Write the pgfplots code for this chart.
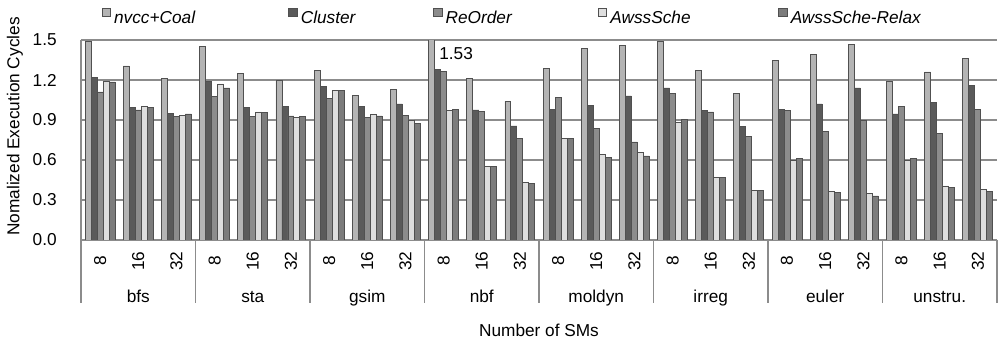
\documentclass[border=0pt]{standalone}
\usepackage{fontspec}
\setmainfont{Liberation Sans}
\usepackage{pgfplots}
\pgfplotsset{compat=1.18}
\usepackage{pgfplotstable}

\definecolor{cA}{HTML}{B4B4B4}
\definecolor{cB}{HTML}{5A5A5A}
\definecolor{cC}{HTML}{8C8C8C}
\definecolor{cD}{HTML}{DEDEDE}
\definecolor{cE}{HTML}{7C7C7C}
\definecolor{edge}{HTML}{505050}
\definecolor{gridgray}{HTML}{8C8C8C}

\pgfplotstableread{
x a b c d e
0 1.49 1.22 1.11 1.19 1.185
1 1.305 0.995 0.975 1.0 0.995
2 1.21 0.95 0.925 0.935 0.945
3 1.455 1.19 1.075 1.17 1.14
4 1.25 0.995 0.925 0.96 0.955
5 1.195 1.0 0.93 0.92 0.925
6 1.27 1.15 1.06 1.12 1.12
7 1.085 1.0 0.92 0.94 0.93
8 1.13 1.02 0.935 0.90 0.875
9 1.53 1.28 1.265 0.97 0.98
10 1.21 0.975 0.965 0.55 0.55
11 1.04 0.855 0.76 0.43 0.425
12 1.285 0.98 1.07 0.76 0.76
13 1.44 1.01 0.835 0.64 0.62
14 1.46 1.08 0.735 0.655 0.63
15 1.49 1.14 1.10 0.88 0.905
16 1.27 0.97 0.96 0.47 0.47
17 1.10 0.85 0.775 0.37 0.37
18 1.35 0.98 0.97 0.595 0.61
19 1.39 1.02 0.815 0.365 0.355
20 1.465 1.14 0.895 0.35 0.33
21 1.19 0.945 1.0 0.595 0.61
22 1.26 1.03 0.80 0.405 0.395
23 1.36 1.16 0.98 0.38 0.365
}\data

\begin{document}
\begin{tikzpicture}
\begin{axis}[
  name=ax,
  scale only axis, width=531.3pt, height=116pt,
  xmin=-0.5, xmax=23.5, ymin=0, ymax=1.5,
  clip mode=individual,
  ybar=0pt, bar width=0.157,
  axis x line*=bottom, axis y line*=left,
  axis line style={-, draw=gridgray},
  x axis line style={line width=1.2pt},
  y axis line style={line width=0.75pt},
  ymajorgrids, grid style={draw=gridgray, line width=0.75pt},
  major tick length=0pt,
  tick style={draw=none},
  ytick={0,0.3,0.6,0.9,1.2,1.5},
  /pgf/number format/assume math mode=true,
  yticklabel style={/pgf/number format/fixed, /pgf/number format/fixed zerofill, /pgf/number format/precision=1, inner sep=0pt},
  yticklabel shift=13.9pt,
  xtick={0,...,23},
  xticklabels={8,16,32,8,16,32,8,16,32,8,16,32,8,16,32,8,16,32,8,16,32,8,16,32},
  xticklabel style={rotate=90, anchor=center, inner sep=0pt},
  xticklabel shift=12.2pt,
  ylabel={Nomalized Execution Cycles},
  ylabel style={at={(axis description cs:-0.0721,0.5675)}, anchor=center},
  xlabel={Number of SMs},
  xlabel style={at={(axis description cs:0.5,-0.45)}, anchor=center},
  every axis plot/.append style={draw=edge, line width=0.5pt},
  legend columns=5,
  legend style={at={(axis description cs:0.0226,1.115)}, anchor=west, draw=none, fill=none,
    inner sep=0pt, outer sep=0pt, nodes={inner sep=0pt, outer sep=0pt},
    /tikz/every even column/.append style={column sep=0pt},
    /tikz/every odd column/.append style={column sep=0pt}},
  legend image code/.code={\draw[#1] (0pt,1.4pt) rectangle (4.8pt,6.2pt);},
]
\addplot[fill=cA] table[x=x, y=a] {\data};
\addlegendentry{\makebox[103pt][l]{\hspace{1.9pt}\textit{nvcc+Coal}}}
\addplot[fill=cB] table[x=x, y=b] {\data};
\addlegendentry{\makebox[78.7pt][l]{\hspace{1.9pt}\textit{Cluster}}}
\addplot[fill=cC] table[x=x, y=c] {\data};
\addlegendentry{\makebox[90.3pt][l]{\hspace{1.9pt}\textit{ReOrder}}}
\addplot[fill=cD] table[x=x, y=d] {\data};
\addlegendentry{\makebox[99.3pt][l]{\hspace{1.9pt}\textit{AwssSche}}}
\addplot[fill=cE] table[x=x, y=e] {\data};
\addlegendentry{\hspace{1.9pt}\textit{AwssSche-Relax}}

\pgfplotsinvokeforeach{-0.5,2.5,5.5,8.5,11.5,14.5,17.5,20.5,23.5}{
  \draw[gridgray, line width=0.9pt] (axis cs:#1,0) -- ([yshift=-36.5pt]axis cs:#1,0);
}
\node[anchor=base, yshift=-36.5pt] at (axis cs:1,0) {bfs};
\node[anchor=base, yshift=-36.5pt] at (axis cs:4,0) {sta};
\node[anchor=base, yshift=-36.5pt] at (axis cs:7,0) {gsim};
\node[anchor=base, yshift=-36.5pt] at (axis cs:10,0) {nbf};
\node[anchor=base, yshift=-36.5pt] at (axis cs:13,0) {moldyn};
\node[anchor=base, yshift=-36.5pt] at (axis cs:16,0) {irreg};
\node[anchor=base, yshift=-36.5pt] at (axis cs:19,0) {euler};
\node[anchor=base, yshift=-36.5pt] at (axis cs:22,0) {unstru.};
\node[anchor=west, inner sep=0pt] at (axis cs:8.88,1.395) {1.53};
\end{axis}
\pgfresetboundingbox
\path[use as bounding box] ([xshift=-47pt, yshift=-57.4pt]ax.south west) rectangle ([xshift=0.6pt, yshift=23.2pt]ax.north east);
\end{tikzpicture}
\end{document}
